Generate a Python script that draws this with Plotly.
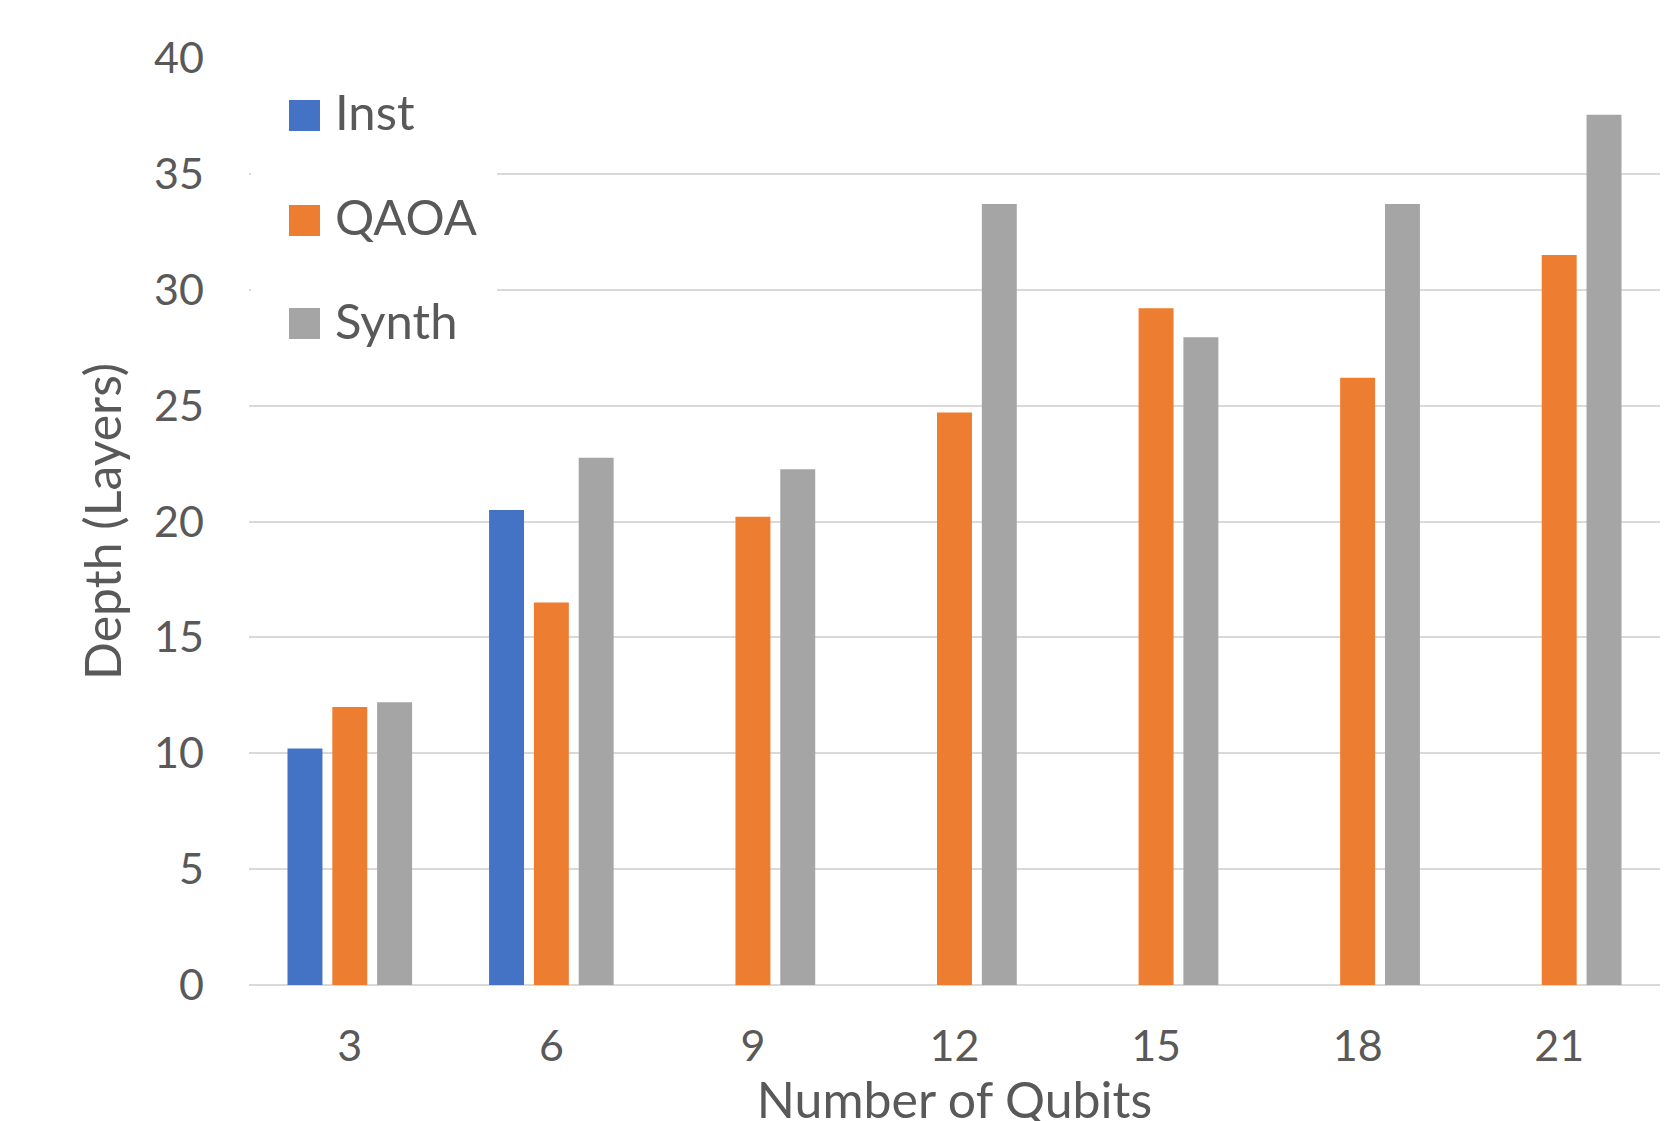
import plotly.graph_objects as go

qubits = ["3", "6", "9", "12", "15", "18", "21"]
inst = [10.2, 20.5, None, None, None, None, None]
qaoa = [12.0, 16.5, 20.2, 24.7, 29.2, 26.2, 31.5]
synth = [12.2, 22.75, 22.25, 33.7, 27.95, 33.7, 37.55]
series_names = ["Inst", "QAOA", "Synth"]
colors = ["#4472C4", "#ED7D31", "#A5A5A5"]

W, H = 1673, 1121
OFF = 8  # page body margin
L, R, T, B = 241, 21, 50, 144
PW, PH = W - L - R, H - T - B
FONT = "Lato"
TXT = "#595959"

def px(xs):
    return (xs - OFF - L) / PW

def py(ys):
    return (H - B - (ys - OFF)) / PH

fig = go.Figure()
for name, vals, col in zip(series_names, [inst, qaoa, synth], colors):
    fig.add_trace(go.Bar(x=qubits, y=vals, name=name, marker=dict(color=col, line=dict(width=0)),
                         showlegend=False))

shapes = [dict(type="rect", xref="paper", yref="paper", x0=px(251), x1=px(497), y0=py(352), y1=py(68),
               fillcolor="white", line=dict(width=0), layer="above")]
annotations = []
centers = [115.5, 220.5, 323.5]
text_centers = [111.5, 216.5, 319.5]
for name, col, cy, ty in zip(series_names, colors, centers, text_centers):
    shapes.append(dict(type="rect", xref="paper", yref="paper", x0=px(289), x1=px(320),
                       y0=py(cy + 15.5), y1=py(cy - 15.5), fillcolor=col, line=dict(width=0), layer="above"))
    annotations.append(dict(text=name, xref="paper", yref="paper", x=px(333), y=py(ty),
                            xanchor="left", yanchor="middle", showarrow=False,
                            font=dict(family=FONT, size=49, color=TXT)))

fig.update_layout(
    width=W, height=H,
    margin=dict(l=L, r=R, t=T, b=B),
    paper_bgcolor="white", plot_bgcolor="white",
    barmode="group", bargap=0.333, bargroupgap=0.22,
    font=dict(family=FONT, color=TXT),
    shapes=shapes, annotations=annotations,
    showlegend=False,
)
fig.update_xaxes(type="category", showgrid=False, showline=False, zeroline=False,
                 tickfont=dict(family=FONT, size=43, color=TXT), ticklabelstandoff=32,
                 title=dict(text="Number of Qubits", font=dict(family=FONT, size=50, color=TXT), standoff=2))
fig.update_yaxes(range=[0, 40], dtick=5, showgrid=True, gridcolor="#D9D9D9", gridwidth=2,
                 zeroline=True, zerolinecolor="#D9D9D9", zerolinewidth=2, showline=False,
                 tickfont=dict(family=FONT, size=43, color=TXT), ticklabelstandoff=44,
                 title=dict(text="Depth (Layers)", font=dict(family=FONT, size=50, color=TXT), standoff=16))

fig.write_html("out.html")
